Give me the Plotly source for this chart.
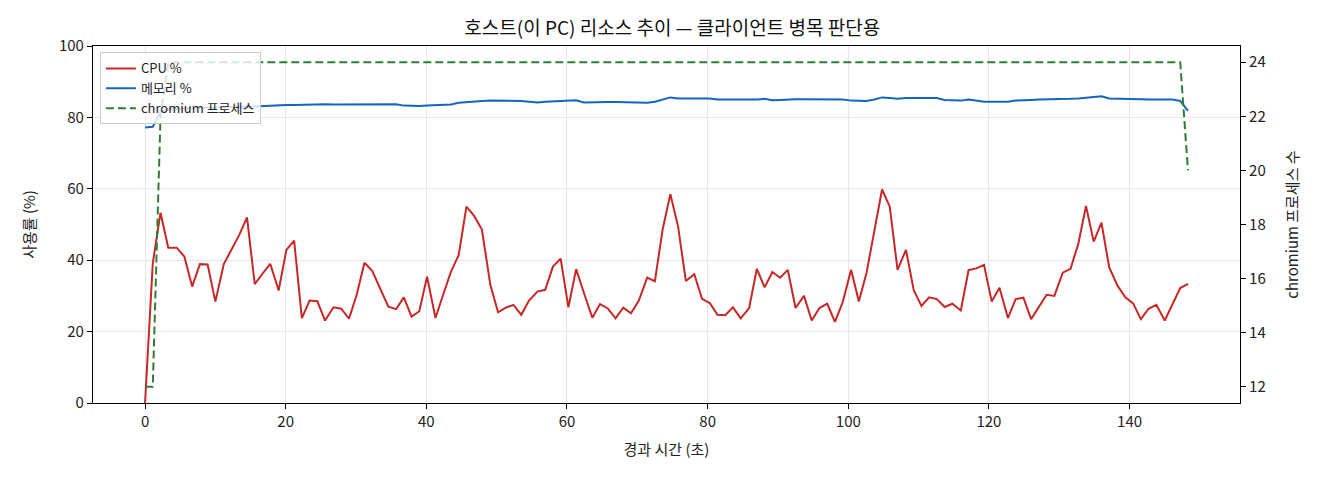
import plotly.graph_objects as go

elapsed_s = [
    0.0, 1.1, 2.2, 3.3, 4.5, 5.6, 6.7, 7.8, 8.9, 10.0,
    11.2, 12.3, 13.4, 14.5, 15.6, 16.7, 17.8, 19.0, 20.1, 21.2,
    22.3, 23.4, 24.5, 25.6, 26.8, 27.9, 29.0, 30.1, 31.2, 32.3,
    33.5, 34.6, 35.7, 36.8, 37.9, 39.0, 40.1, 41.3, 42.4, 43.5,
    44.6, 45.7, 46.8, 47.9, 49.1, 50.2, 51.3, 52.4, 53.5, 54.6,
    55.8, 56.9, 58.0, 59.1, 60.2, 61.3, 62.4, 63.6, 64.7, 65.8,
    66.9, 68.0, 69.1, 70.2, 71.4, 72.5, 73.6, 74.7, 75.8, 76.9,
    78.1, 79.2, 80.3, 81.4, 82.5, 83.6, 84.7, 85.9, 87.0, 88.1,
    89.2, 90.3, 91.4, 92.5, 93.7, 94.8, 95.9, 97.0, 98.1, 99.2,
    100.4, 101.5, 102.6, 103.7, 104.8, 105.9, 107.0, 108.2, 109.3, 110.4,
    111.5, 112.6, 113.7, 114.8, 116.0, 117.1, 118.2, 119.3, 120.4, 121.5,
    122.7, 123.8, 124.9, 126.0, 127.1, 128.2, 129.3, 130.5, 131.6, 132.7,
    133.8, 134.9, 136.0, 137.1, 138.3, 139.4, 140.5, 141.6, 142.7, 143.8,
    145.0, 146.1, 147.2, 148.3,
]

cpu_pct = [
    0.0, 39.1, 53.3, 43.5, 43.5, 41.0, 32.6, 38.9, 38.8, 28.4,
    38.9, 42.9, 47.1, 52.0, 33.3, 36.2, 39.0, 31.5, 42.9, 45.5,
    23.8, 28.7, 28.5, 23.1, 26.8, 26.4, 23.6, 30.3, 39.3, 37.0,
    31.8, 27.0, 26.3, 29.6, 24.2, 25.7, 35.4, 23.8, 30.4, 36.8,
    41.4, 55.0, 52.4, 48.6, 33.1, 25.4, 26.7, 27.5, 24.7, 28.7,
    31.2, 31.7, 38.2, 40.4, 26.8, 37.5, 30.9, 23.9, 27.7, 26.5,
    23.7, 26.7, 25.1, 28.6, 35.1, 34.1, 48.6, 58.5, 49.4, 34.2,
    36.1, 29.2, 28.0, 24.7, 24.6, 26.8, 23.7, 26.6, 37.6, 32.4,
    36.7, 35.1, 37.3, 26.6, 30.0, 23.1, 26.6, 27.8, 22.7, 28.2,
    37.3, 28.4, 36.5, 48.4, 59.8, 55.0, 37.3, 42.9, 31.7, 27.2,
    29.6, 29.1, 26.9, 27.8, 25.9, 37.2, 37.7, 38.7, 28.4, 32.3,
    23.8, 29.1, 29.5, 23.5, 27.0, 30.3, 30.0, 36.5, 37.6, 44.5,
    55.2, 45.2, 50.5, 38.0, 32.8, 29.6, 27.9, 23.5, 26.4, 27.5,
    23.1, 27.7, 32.2, 33.4,
]

mem_pct = [
    77.2, 77.4, 81.5, 82.2, 82.4, 82.5, 82.5, 82.6, 82.6, 82.7,
    82.8, 82.9, 82.9, 83.0, 83.1, 83.1, 83.4, 83.4, 83.5, 83.5,
    83.6, 83.6, 83.6, 83.7, 83.6, 83.6, 83.5, 83.5, 83.6, 83.7,
    83.7, 83.7, 83.7, 83.3, 83.2, 83.2, 83.3, 83.4, 83.4, 83.6,
    84.1, 84.3, 84.5, 84.6, 84.7, 84.7, 84.7, 84.7, 84.6, 84.4,
    84.2, 84.4, 84.5, 84.7, 84.8, 84.8, 84.2, 84.3, 84.3, 84.3,
    84.3, 84.3, 84.3, 84.3, 84.1, 84.4, 84.9, 85.6, 85.3, 85.3,
    85.4, 85.3, 85.3, 85.0, 85.0, 85.0, 84.9, 84.8, 85.0, 85.2,
    84.8, 84.9, 85.1, 85.1, 85.1, 85.1, 85.1, 85.1, 85.1, 85.0,
    84.7, 84.6, 84.6, 85.0, 85.6, 85.4, 85.2, 85.4, 85.5, 85.4,
    85.4, 85.4, 84.9, 84.8, 84.7, 85.0, 84.7, 84.4, 84.4, 84.4,
    84.4, 84.7, 84.9, 84.9, 85.0, 85.0, 85.0, 85.1, 85.2, 85.3,
    85.5, 85.7, 85.9, 85.3, 85.3, 85.3, 85.2, 85.1, 85.0, 85.0,
    85.0, 85.0, 84.6, 81.8,
]

# chromium process count: 12 at launch, 24 while running, 20 at shutdown
chromium_procs = [12, 12, 22] + [24] * 130 + [20]

CPU_COL  = '#c62828'
MEM_COL  = '#1565c0'
PROC_COL = '#2e7d32'
FONT     = 'Noto Sans CJK KR'
TXT_COL  = '#222'

# ── Plot ──────────────────────────────────────────────────────
fig = go.Figure()
fig.add_trace(go.Scatter(x=elapsed_s, y=cpu_pct, mode='lines', name='CPU %',
                         line=dict(color=CPU_COL, width=2)))
fig.add_trace(go.Scatter(x=elapsed_s, y=mem_pct, mode='lines', name='메모리 %',
                         line=dict(color=MEM_COL, width=2)))
fig.add_trace(go.Scatter(x=elapsed_s, y=chromium_procs, mode='lines',
                         name='chromium 프로세스', yaxis='y2',
                         line=dict(color=PROC_COL, width=2, dash='8px,4px')))

axis_common = dict(
    showline=True, linecolor='black', linewidth=1.2,
    ticks='outside', ticklen=5, tickwidth=1.2, tickcolor='black',
    zeroline=False,
    tickfont=dict(family=FONT, size=15, color=TXT_COL),
)
title_font = dict(family=FONT, size=15, color=TXT_COL)

# the page body has an 8px margin, so the figure is 8px smaller
fig.update_layout(
    width=1312, height=472,
    paper_bgcolor='white', plot_bgcolor='white',
    font=dict(family=FONT, size=15, color=TXT_COL),
    title=dict(
        text='호스트(이 PC) 리소스 추이 — 클라이언트 병목 판단용',
        font=dict(family=FONT, size=19, color='#111'),
        x=0.505, xanchor='center', xref='paper',
        y=1 - 20 / 472, yanchor='middle', yref='container',
    ),
    xaxis=dict(
        **axis_common, mirror=True,
        range=[-7.4, 155.7], dtick=20,
        showgrid=True, gridcolor='#e6e6e6', gridwidth=1,
        title=dict(text='경과 시간 (초)', standoff=14, font=title_font),
    ),
    yaxis=dict(
        **axis_common, mirror=True,
        range=[0, 100], dtick=20,
        showgrid=True, gridcolor='#e6e6e6', gridwidth=1,
        title=dict(text='사용률 (%)', standoff=19, font=title_font),
    ),
    yaxis2=dict(
        **axis_common, overlaying='y', side='right',
        range=[11.4, 24.6], dtick=2, showgrid=False,
        title=dict(text='chromium 프로세스 수', standoff=22, font=title_font),
    ),
    legend=dict(
        x=0.006, y=0.982, xanchor='left', yanchor='top',
        bgcolor='rgba(255,255,255,0.8)', bordercolor='#cccccc', borderwidth=1,
        font=dict(family=FONT, size=13, color=TXT_COL),
    ),
    showlegend=True,
    margin=dict(l=85, r=80, t=38, b=77),
)

fig.write_html("out.html")
